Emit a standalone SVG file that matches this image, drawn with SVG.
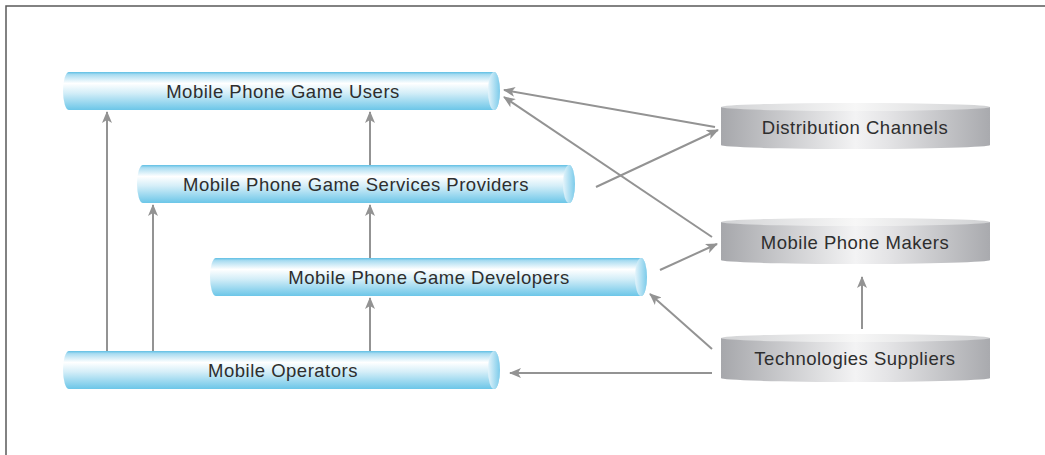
<svg xmlns="http://www.w3.org/2000/svg" width="1045" height="455" viewBox="0 0 1045 455">
<style>
.lbl{font-family:"Liberation Sans",Arial,sans-serif;font-size:18.5px;letter-spacing:0.5px;fill:#2e2e2e;text-anchor:middle}
.tube{fill:url(#tubeG)}
.cap{fill:url(#capG)}
.disc{fill:url(#discG)}
.discTop{fill:url(#discTopG)}
.conn{stroke:#939393;stroke-width:2;fill:none;marker-end:url(#ah)}
</style>
<defs>
<linearGradient id="tubeG" x1="0" y1="0" x2="0" y2="1">
<stop offset="0" stop-color="#5fbfe4"/>
<stop offset="0.07" stop-color="#a9dcf1"/>
<stop offset="0.3" stop-color="#ffffff"/>
<stop offset="0.55" stop-color="#d4eef8"/>
<stop offset="1" stop-color="#6cc6e8"/>
</linearGradient>
<linearGradient id="capG" x1="0" y1="0" x2="1" y2="0">
<stop offset="0" stop-color="#e4f4fb"/>
<stop offset="1" stop-color="#7ccbea"/>
</linearGradient>
<linearGradient id="discG" x1="0" y1="0" x2="1" y2="0">
<stop offset="0" stop-color="#a6a7ab"/>
<stop offset="0.5" stop-color="#f3f3f4"/>
<stop offset="0.62" stop-color="#e4e4e6"/>
<stop offset="1" stop-color="#a9aaae"/>
</linearGradient>
<linearGradient id="discTopG" x1="0" y1="0" x2="1" y2="0">
<stop offset="0" stop-color="#d2d3d5"/>
<stop offset="0.5" stop-color="#f7f7f7"/>
<stop offset="1" stop-color="#d0d1d3"/>
</linearGradient>
<marker id="ah" viewBox="0 0 12 10" refX="11" refY="5" markerWidth="12" markerHeight="10" markerUnits="userSpaceOnUse" orient="auto">
<path d="M0,0 L12,5 L0,10 L3,5 Z" fill="#939393"/>
</marker>
</defs>
<g id="frame">
<path d="M6,455 V6 H1045" fill="none" stroke="#5a5a5a" stroke-width="1.5"/>
</g>
<g id="connectors">
<line class="conn" x1="715" y1="127" x2="504" y2="90"/>
<line class="conn" x1="596" y1="187" x2="718" y2="130"/>
<line class="conn" x1="712" y1="237" x2="504" y2="97"/>
<line class="conn" x1="660" y1="270" x2="717" y2="244"/>
<line class="conn" x1="712" y1="349" x2="650" y2="294"/>
<line class="conn" x1="712" y1="373" x2="510" y2="373"/>
<line class="conn" x1="862" y1="329" x2="862" y2="277"/>
<line class="conn" x1="107" y1="351" x2="107" y2="112"/>
<line class="conn" x1="153" y1="351" x2="153" y2="205"/>
<line class="conn" x1="370" y1="351" x2="370" y2="298"/>
<line class="conn" x1="370" y1="258" x2="370" y2="205"/>
<line class="conn" x1="370" y1="165" x2="370" y2="112"/>
</g>
<g id="users">
<path class="tube" d="M69,72 H494 A6,19 0 0 1 494,110 H69 A6,19 0 0 1 69,72 Z"/>
<ellipse class="cap" cx="494" cy="91" rx="6" ry="19"/>
<text class="lbl" x="283" y="98">Mobile Phone Game Users</text>
</g>
<g id="providers">
<path class="tube" d="M143,165 H569 A6,19 0 0 1 569,203 H143 A6,19 0 0 1 143,165 Z"/>
<ellipse class="cap" cx="569" cy="184" rx="6" ry="19"/>
<text class="lbl" x="356" y="191">Mobile Phone Game Services Providers</text>
</g>
<g id="developers">
<path class="tube" d="M216,258 H641 A6,19 0 0 1 641,296 H216 A6,19 0 0 1 216,258 Z"/>
<ellipse class="cap" cx="641" cy="277" rx="6" ry="19"/>
<text class="lbl" x="429" y="284">Mobile Phone Game Developers</text>
</g>
<g id="operators">
<path class="tube" d="M69,351 H494 A6,19 0 0 1 494,389 H69 A6,19 0 0 1 69,351 Z"/>
<ellipse class="cap" cx="494" cy="370" rx="6" ry="19"/>
<text class="lbl" x="283" y="377">Mobile Operators</text>
</g>
<g id="distribution">
<path class="disc" d="M721,107 H990 V145 A134.5,4 0 0 1 721,145 Z"/>
<ellipse class="discTop" cx="855.5" cy="107" rx="134.5" ry="4"/>
<text class="lbl" x="855" y="134">Distribution Channels</text>
</g>
<g id="makers">
<path class="disc" d="M721,222 H990 V260 A134.5,4 0 0 1 721,260 Z"/>
<ellipse class="discTop" cx="855.5" cy="222" rx="134.5" ry="4"/>
<text class="lbl" x="855" y="249">Mobile Phone Makers</text>
</g>
<g id="suppliers">
<path class="disc" d="M721,338 H990 V378 A134.5,4 0 0 1 721,378 Z"/>
<ellipse class="discTop" cx="855.5" cy="338" rx="134.5" ry="4"/>
<text class="lbl" x="855" y="365">Technologies Suppliers</text>
</g>
</svg>
